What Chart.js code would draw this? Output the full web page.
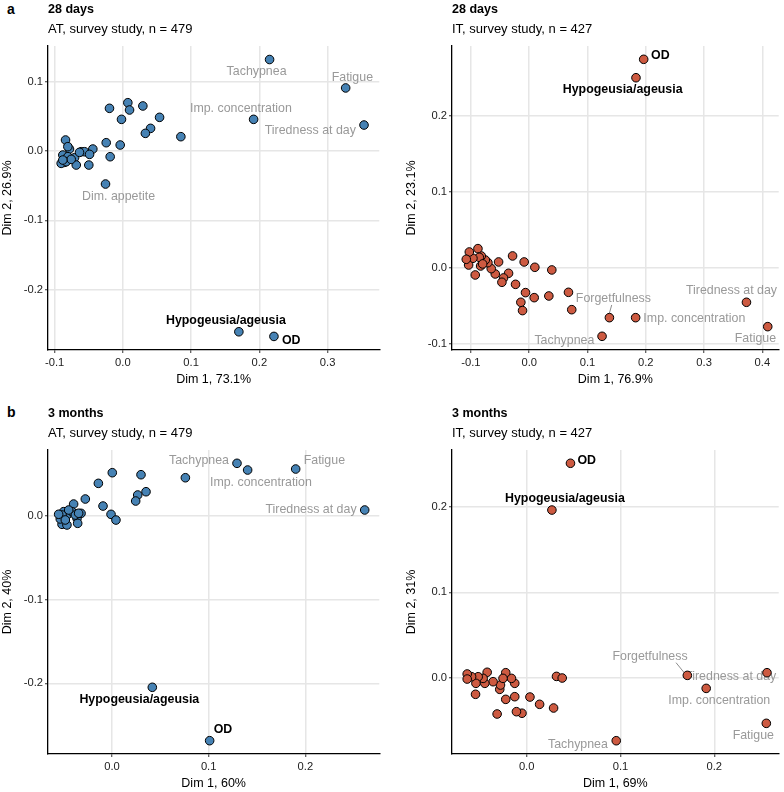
<!DOCTYPE html>
<html><head><meta charset="utf-8">
<script src="https://cdn.jsdelivr.net/npm/chart.js@4"></script>
<style>
body{margin:0;background:#fff;width:784px;height:792px;position:relative;overflow:hidden;font-family:"Liberation Sans",Arial,Helvetica,sans-serif}
.cell{position:absolute}
.tag{position:absolute;font-weight:bold;font-size:14px;line-height:1;color:#000}
canvas{display:block}
</style></head><body>
<div class="tag" style="left:7px;top:2px">a</div>
<div class="tag" style="left:7px;top:405px">b</div>
<div class="cell" style="left:0;top:0"><canvas id="c1" width="392" height="404"></canvas></div>
<div class="cell" style="left:392px;top:0"><canvas id="c2" width="392" height="404"></canvas></div>
<div class="cell" style="left:0;top:404px"><canvas id="c3" width="392" height="388"></canvas></div>
<div class="cell" style="left:392px;top:404px"><canvas id="c4" width="392" height="388"></canvas></div>
<script>
// ---------- DATA ----------
// Panel a-left: AT, 28 days
const at28X = [0.215,0.3265,0.1916,0.3534,0.170,0.2214,-0.0254,
  0.085,0.0538,0.0406,0.033,0.0293,0.0073,0.0098,-0.0196,-0.002,-0.0039,-0.0244,-0.0186,
  -0.084,-0.0782,-0.0806,-0.061,-0.0562,-0.044,-0.0488,-0.088,-0.0806,-0.0708,-0.0855,-0.0904,-0.083,-0.0683,-0.0499,-0.0757,-0.088,-0.0635];
const at28Y = [0.132,0.091,0.0457,0.0375,-0.2607,-0.2674,-0.0476,
  0.0207,0.0486,0.0327,0.0255,0.065,0.0697,0.0592,0.0616,0.0457,0.0087,0.012,-0.0082,
  0.0159,0.0029,0.0063,-0.001,-0.001,0.0029,-0.0048,-0.0058,-0.0082,-0.0097,-0.0163,-0.0178,-0.0154,-0.0202,-0.0202,-0.012,-0.013,-0.0019];
const at28Names = ["Tachypnea","Fatigue","Imp. concentration","Tiredness at day","Hypogeusia/ageusia","OD","Dim. appetite"];

// Panel a-right: IT, 28 days
const it28X = [0.1964,0.1832,0.3727,0.4092,0.1826,0.1376,0.125,
  0.073,0.0674,0.0337,0.0388,0.0097,0.0086,-0.0063,-0.0086,-0.0143,-0.0114,-0.0234,-0.0285,-0.0354,-0.044,-0.0468,
  -0.0525,-0.0582,-0.0651,-0.0708,-0.0753,-0.0822,-0.0833,-0.0879,-0.0856,-0.0965,-0.0925,-0.1027,-0.1039,-0.1079,-0.0798];
const it28Y = [0.2742,0.250,-0.0451,-0.0771,-0.0653,-0.0653,-0.0898,
  -0.0548,-0.032,-0.0368,-0.0026,0.0009,-0.039,-0.0324,0.0079,-0.0451,-0.056,-0.0215,0.0158,-0.007,-0.0131,-0.0188,
  0.0079,-0.0079,-0.0009,0.007,0.0105,0.0158,0.0026,0.0254,0.014,0.0127,-0.0092,0.021,0.0039,0.0114,0.0053];
const it28Names = ["OD","Hypogeusia/ageusia","Tiredness at day","Fatigue","Imp. concentration","Forgetfulness","Tachypnea"];

// Panel b-left: AT, 3 months
const at3X = [0.1293,0.1403,0.19,0.2614,0.0417,0.101,
  0.0759,0.03,0.0352,0.0266,0.0245,0.0003,-0.0141,-0.0093,-0.001,0.0041,-0.0276,-0.0397,
  -0.05,-0.0466,-0.0517,-0.0517,-0.0466,-0.0414,-0.0362,-0.0355,-0.032,-0.0379,-0.0448,-0.0535,-0.0552,-0.0483,-0.0345];
const at3Y = [0.0625,0.0545,0.0557,0.0068,-0.2048,-0.2685,
  0.0453,0.0489,0.0286,0.0247,0.0175,0.0513,0.0386,0.0115,0.0016,-0.0052,0.0199,0.0139,
  0.0048,0.0008,0.0008,-0.0103,-0.0111,0.0048,-0.0032,-0.0091,0.0028,0.0008,0.0068,-0.0039,0.0017,-0.0051,0.0029];
const at3Names = ["Tachypnea","Imp. concentration","Fatigue","Tiredness at day","Hypogeusia/ageusia","OD"];

// Panel b-right: IT, 3 months
const it3X = [0.0467,0.0269,0.0955,0.1713,0.1914,0.2562,0.2555,
  0.0318,0.0379,0.0287,0.0138,0.0035,-0.005,-0.0109,-0.0127,-0.0127,-0.0162,-0.0223,-0.0223,-0.0315,-0.0287,-0.0279,
  -0.0252,-0.0358,-0.0421,-0.0446,-0.0464,-0.0517,-0.0541,-0.0545,-0.0587,-0.0634,-0.0634];
const it3Y = [0.2507,0.1961,-0.0732,0.0031,-0.0121,0.0062,-0.0529,
  0.0019,0,-0.035,-0.0307,-0.0222,-0.0411,-0.0393,-0.0218,-0.0062,-0.0004,0.0062,-0.0249,-0.042,-0.0132,-0.0082,
  -0.0004,-0.0043,0.0067,-0.0062,-0.0004,0.0015,-0.0062,-0.019,0.0015,0.0047,-0.0012];
const it3Names = ["OD","Hypogeusia/ageusia","Tachypnea","Forgetfulness","Imp. concentration","Tiredness at day","Fatigue"];

// Tick values
const ticksX1 = [-0.1,0.0,0.1,0.2,0.3];
const ticksY1 = [-0.2,-0.1,0.0,0.1];
const ticksX2 = [-0.1,0.0,0.1,0.2,0.3,0.4];
const ticksY2 = [-0.1,0.0,0.1,0.2];
const ticksX3 = [0.0,0.1,0.2];
const ticksY3 = [-0.2,-0.1,0.0];
const ticksX4 = [0.0,0.1,0.2];
const ticksY4 = [0.0,0.1,0.2];

// ---------- STYLE ----------
const FAM = '"Liberation Sans", Arial, Helvetica, sans-serif';
const BLUE = '#4682B4', RED = '#CD5A41';

const off1 = {
  "Tachypnea":{dx:-13,dy:12.3}, "Fatigue":{dx:6.7,dy:-10.7}, "Imp. concentration":{dx:-12.7,dy:-10.7},
  "Tiredness at day":{dx:-53.7,dy:6}, "Dim. appetite":{dx:13,dy:12.7},
  "Hypogeusia/ageusia":{dx:-13,dy:-11.3,bold:true}, "OD":{dx:17.3,dy:4.3,bold:true}
};
const off2 = {
  "OD":{dx:16.7,dy:-3.3,bold:true}, "Hypogeusia/ageusia":{dx:-13.3,dy:12.3,bold:true},
  "Tiredness at day":{dx:-15,dy:-11.3}, "Fatigue":{dx:-12.3,dy:12.3}, "Imp. concentration":{dx:58.7,dy:0.7},
  "Forgetfulness":{dx:4,dy:-19.3,seg:[2.3,-12.7,0,-4.5]}, "Tachypnea":{dx:-37.7,dy:4.3}
};
const off3 = {
  "Tachypnea":{dx:-38,dy:-2.7}, "Fatigue":{dx:28.7,dy:-8.3}, "Imp. concentration":{dx:13.3,dy:12.7},
  "Tiredness at day":{dx:-53.7,dy:0}, "Hypogeusia/ageusia":{dx:-13,dy:12.7,bold:true}, "OD":{dx:13.3,dy:-11.3,bold:true}
};
const off4 = {
  "OD":{dx:16.3,dy:-2.3,bold:true}, "Hypogeusia/ageusia":{dx:13,dy:-11,bold:true},
  "Forgetfulness":{dx:-37.3,dy:-18.7,seg:[-11.3,-12.7,-3,-2.5]}, "Tiredness at day":{dx:-36.3,dy:4},
  "Imp. concentration":{dx:13,dy:12.3}, "Fatigue":{dx:-13,dy:12}, "Tachypnea":{dx:-38.3,dy:4.3}
};

const labelPlugin = {
  id:'ptLabels',
  beforeDatasetsDraw(chart, args, opts){
    const ctx = chart.ctx, meta = chart.getDatasetMeta(0);
    ctx.save();
    (opts.names||[]).forEach((n,i)=>{
      const el = meta.data[i]; const o = opts.offsets[n]; if(!el||!o) return;
      if(o.seg){
        ctx.strokeStyle='#8c8c8c'; ctx.lineWidth=1; ctx.beginPath();
        ctx.moveTo(el.x+o.seg[0], el.y+o.seg[1]); ctx.lineTo(el.x+o.seg[2], el.y+o.seg[3]); ctx.stroke();
      }
      ctx.font = (o.bold?'bold ':'')+'12.4px '+FAM;
      ctx.fillStyle = o.bold ? '#000' : '#999999';
      ctx.textAlign='center'; ctx.textBaseline='middle';
      ctx.fillText(n, el.x+o.dx, el.y+o.dy);
    });
    ctx.restore();
  }
};

function fmt(v){ return Math.abs(v)<1e-9 ? '0.0' : v.toFixed(1); }

function makeChart(id, cfg){
  const pts = cfg.x.map((v,i)=>({x:v,y:cfg.y[i]}));
  new Chart(document.getElementById(id), {
    type:'scatter',
    data:{datasets:[{data:pts, backgroundColor:cfg.color, borderColor:'#000', borderWidth:1,
      pointRadius:4.3, pointHoverRadius:4.3}]},
    plugins:[labelPlugin],
    options:{
      responsive:false, animation:false, events:[],
      layout:{padding:{left:0,top:0,right:cfg.padR,bottom:0}},
      plugins:{
        legend:{display:false}, tooltip:{enabled:false},
        title:{display:true, text:cfg.title, align:'start', fullSize:false, color:'#000',
          font:{family:FAM,size:12.5,weight:'bold',lineHeight:1.2}, padding:{top:2.2,bottom:2.5}},
        subtitle:{display:true, text:cfg.sub, align:'start', fullSize:false, color:'#000',
          font:{family:FAM,size:13,weight:'normal',lineHeight:1.2}, padding:{top:2.2,bottom:8.5}},
        ptLabels:{names:cfg.names, offsets:cfg.off}
      },
      scales:{
        x:{type:'linear', min:cfg.xr[0], max:cfg.xr[1],
          afterBuildTicks:s=>{ s.ticks = cfg.tx.map(v=>({value:v})); },
          afterFit:s=>{ s.height = cfg.xH; },
          ticks:{callback:fmt, font:{family:FAM,size:11.2}, color:'#222', padding:3, maxRotation:0, autoSkip:false},
          grid:{color:'#e6e6e6', lineWidth:1.5, tickColor:'#333', tickLength:3, tickWidth:1},
          border:{display:true,color:'#000',width:1.3},
          title:{display:true, text:cfg.xt, color:'#000', font:{family:FAM,size:12.5,lineHeight:1.2}, padding:{top:0,bottom:cfg.xtp}}
        },
        y:{type:'linear', min:cfg.yr[0], max:cfg.yr[1],
          afterBuildTicks:s=>{ s.ticks = cfg.ty.map(v=>({value:v})); },
          afterFit:s=>{ s.width = cfg.yW; },
          ticks:{callback:fmt, font:{family:FAM,size:11.2}, color:'#222', padding:2, autoSkip:false},
          grid:{color:'#e6e6e6', lineWidth:1.5, tickColor:'#333', tickLength:3, tickWidth:1},
          border:{display:true,color:'#000',width:1.3},
          title:{display:true, text:cfg.yt, color:'#000', font:{family:FAM,size:12.5,lineHeight:1.2}, padding:{top:cfg.ytp,bottom:0}}
        }
      }
    }
  });
}

makeChart('c1',{x:at28X,y:at28Y,names:at28Names,off:off1,color:BLUE,title:'28 days',sub:'AT, survey study, n = 479',
  xr:[-0.1097,0.3758], yr:[-0.287,0.1515], tx:ticksX1, ty:ticksY1, xt:'Dim 1, 73.1%', yt:'Dim 2, 26.9%',
  yW:48, xH:54, padR:12.7, xtp:16.5, ytp:0});
makeChart('c2',{x:it28X,y:it28Y,names:it28Names,off:off2,color:RED,title:'28 days',sub:'IT, survey study, n = 427',
  xr:[-0.1324,0.428], yr:[-0.1078,0.2917], tx:ticksX2, ty:ticksY2, xt:'Dim 1, 76.9%', yt:'Dim 2, 23.1%',
  yW:60, xH:54, padR:4, xtp:16.5, ytp:12});
makeChart('c3',{x:at3X,y:at3Y,names:at3Names,off:off3,color:BLUE,title:'3 months',sub:'AT, survey study, n = 479',
  xr:[-0.0662,0.2765], yr:[-0.2844,0.0784], tx:ticksX3, ty:ticksY3, xt:'Dim 1, 60%', yt:'Dim 2, 40%',
  yW:48, xH:38, padR:12.7, xtp:1.2, ytp:0});
makeChart('c4',{x:it3X,y:it3Y,names:it3Names,off:off4,color:RED,title:'3 months',sub:'IT, survey study, n = 427',
  xr:[-0.0796,0.2687], yr:[-0.0887,0.2662], tx:ticksX4, ty:ticksY4, xt:'Dim 1, 69%', yt:'Dim 2, 31%',
  yW:60, xH:38, padR:4, xtp:1.2, ytp:12});
</script>
</body></html>
